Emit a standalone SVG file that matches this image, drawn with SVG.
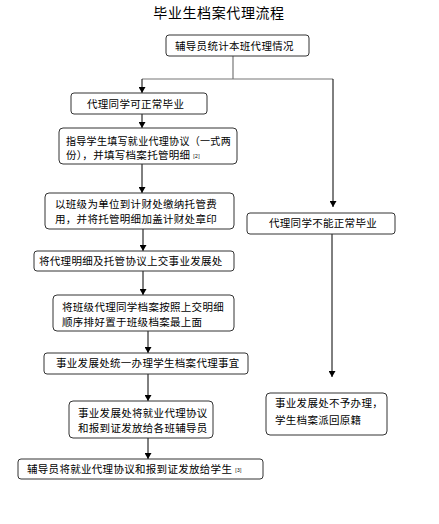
<svg xmlns="http://www.w3.org/2000/svg" width="439" height="524" viewBox="0 0 439 524">
<style>
.box{fill:#fff;stroke:#333;stroke-width:1}
.t{font-family:"Noto Sans CJK SC","Noto Sans",sans-serif;font-size:10.5px;fill:#000;letter-spacing:0.3px}
.ttl{font-family:"Noto Sans CJK SC","Noto Sans",sans-serif;font-size:14px;fill:#000;letter-spacing:0.6px}
.sup{font-family:"Liberation Sans",sans-serif;font-size:5px;fill:#000}
.c{fill:none;stroke:#000;stroke-width:1}
.g{fill:none;stroke:#777;stroke-width:1.2}
</style>
<defs>
<marker id="ah" viewBox="0 0 6 7" refX="6" refY="3.5" markerWidth="6" markerHeight="7" markerUnits="userSpaceOnUse" orient="auto">
<path d="M0,0 L6,3.5 L0,7 Z" fill="#000"/>
</marker>
</defs>
<rect width="439" height="524" fill="#fff"/>
<text class="ttl" x="219" y="18" text-anchor="middle">毕业生档案代理流程</text>
<g id="connectors">
<path class="g" d="M233 56 V79"/>
<path class="g" d="M142 79 H333"/>
<path class="c" d="M142 79 V93" marker-end="url(#ah)"/>
<path class="c" d="M333 79 V207" marker-end="url(#ah)"/>
<path class="c" d="M142 114 V128" marker-end="url(#ah)"/>
<path class="c" d="M142 164 V193" marker-end="url(#ah)"/>
<path class="c" d="M143 229 V251" marker-end="url(#ah)"/>
<path class="c" d="M143 271 V295" marker-end="url(#ah)"/>
<path class="c" d="M148 331 V353" marker-end="url(#ah)"/>
<path class="c" d="M148 374 V401" marker-end="url(#ah)"/>
<path class="c" d="M148 438 V459" marker-end="url(#ah)"/>
<path class="c" d="M332 234 V377" marker-end="url(#ah)"/>
</g>
<g id="n1"><rect class="box" x="166" y="35" width="143" height="21" rx="3"/><text class="t" x="175" y="49.5">辅导员统计本班代理情况</text></g>
<g id="n2"><rect class="box" x="71" y="93" width="136" height="21" rx="3"/><text class="t" x="87" y="107.5">代理同学可正常毕业</text></g>
<g id="n3"><rect class="box" x="59" y="128" width="178" height="36" rx="4"/><text class="t" x="66" y="144.5" textLength="165" lengthAdjust="spacingAndGlyphs">指导学生填写就业代理协议（一式两</text><text class="t" x="66" y="159">份），并填写档案托管明细<tspan class="sup" dx="3" dy="-1">[2]</tspan></text></g>
<g id="n4"><rect class="box" x="45" y="193" width="189" height="36" rx="4"/><text class="t" x="55" y="208">以班级为单位到计财处缴纳托管费</text><text class="t" x="55" y="222.5">用，并将托管明细加盖计财处章印</text></g>
<g id="n5"><rect class="box" x="34" y="251" width="200" height="20" rx="3"/><text class="t" x="39" y="265">将代理明细及托管协议上交事业发展处</text></g>
<g id="n6"><rect class="box" x="53" y="295" width="181" height="36" rx="4"/><text class="t" x="62" y="311">将班级代理同学档案按照上交明细</text><text class="t" x="62" y="326">顺序排好置于班级档案最上面</text></g>
<g id="n7"><rect class="box" x="44" y="353" width="204" height="21" rx="3"/><text class="t" x="56" y="367">事业发展处统一办理学生档案代理事宜</text></g>
<g id="n8"><rect class="box" x="69" y="401" width="144" height="37" rx="4"/><text class="t" x="78" y="417">事业发展处将就业代理协议</text><text class="t" x="78" y="432">和报到证发放给各班辅导员</text></g>
<g id="n9"><rect class="box" x="18" y="459" width="245" height="20" rx="3"/><text class="t" x="27" y="473">辅导员将就业代理协议和报到证发放给学生<tspan class="sup" dx="3" dy="-1">[3]</tspan></text></g>
<g id="r1"><rect class="box" x="247" y="213" width="148" height="21" rx="3"/><text class="t" x="269" y="227">代理同学不能正常毕业</text></g>
<g id="r2"><rect class="box" x="266" y="393" width="121" height="42" rx="4"/><text class="t" x="275" y="407">事业发展处不予办理，</text><text class="t" x="275" y="424">学生档案派回原籍</text></g>
</svg>
